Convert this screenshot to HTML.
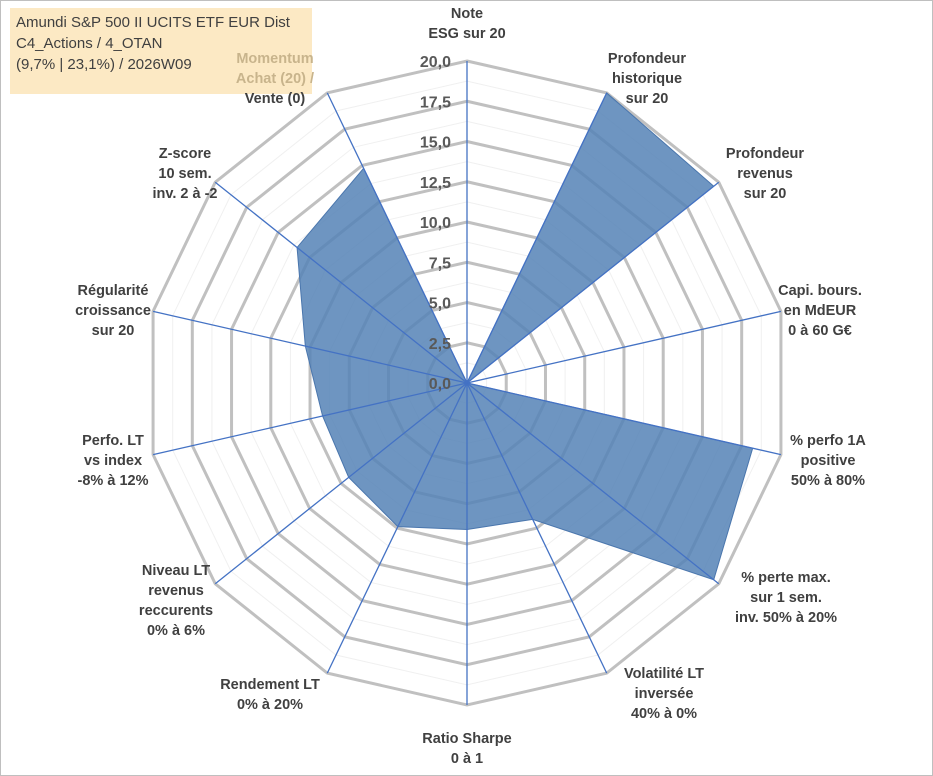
<!DOCTYPE html>
<html><head><meta charset="utf-8"><style>
body{margin:0;background:#fff;}
#wrap{position:relative;width:933px;height:776px;overflow:hidden;font-family:"Liberation Sans",sans-serif;}
#frame{position:absolute;left:0;top:0;width:931px;height:774px;border:1px solid #bfbfbf;}
#title{position:absolute;left:10px;top:8px;width:302px;height:86px;background:#fce9c4;color:#404040;font-size:15px;line-height:21px;padding:4px 6px;box-sizing:border-box;}
svg text{font-family:"Liberation Sans",sans-serif;}
</style></head><body>
<div id="wrap">
<div id="frame"></div>
<div id="title">Amundi S&amp;P 500 II UCITS ETF EUR Dist<br>C4_Actions / 4_OTAN<br>(9,7% | 23,1%) / 2026W09</div>
<svg id="svg" width="933" height="776" style="position:absolute;left:0;top:0"></svg>
</div>
<script>
const categories=[["Note","ESG sur 20"],["Profondeur","historique","sur 20"],["Profondeur","revenus","sur 20"],["Capi. bours.","en MdEUR","0 à 60 G€"],["% perfo 1A","positive","50% à 80%"],["% perte max.","sur 1 sem.","inv. 50% à 20%"],["Volatilité LT","inversée","40% à 0%"],["Ratio Sharpe","0 à 1"],["Rendement LT","0% à 20%"],["Niveau LT","revenus","reccurents","0% à 6%"],["Perfo. LT","vs index","-8% à 12%"],["Régularité","croissance","sur 20"],["Z-score","10 sem.","inv. 2 à -2"],["Momentum","Achat (20) /","Vente (0)"]];
const values=[0,20,19.6,0,18.2,19.6,9.4,9.1,9.9,9.4,9.2,10.3,13.5,14.8];
const ticks=[0,2.5,5,7.5,10,12.5,15,17.5,20];
const maxV=20;
const labelPos=[[467,5],[647,50],[765,145],[820,282],[828,432],[786,569],[664,665],[467,730],[270,676],[176,562],[113,432],[113,282],[185,145],[275,50]];
const NS="http://www.w3.org/2000/svg";
const svg=document.getElementById('svg');
const cx=467,cy=383,R=322,n=categories.length;
function ang(i){return i*2*Math.PI/n;}
function pt(i,v){const r=v/maxV*R;return [cx+r*Math.sin(ang(i)),cy-r*Math.cos(ang(i))];}
function mk(t,a){const e=document.createElementNS(NS,t);for(const k in a)e.setAttribute(k,a[k]);svg.appendChild(e);return e;}
for(let k=1;k<=16;k++){const v=k*1.25;const p=[];for(let i=0;i<n;i++)p.push(pt(i,v).join(','));
 const major=(k%2===0);
 const e=mk('polygon',{points:p.join(' '),fill:'none',stroke:major?'#c0c0c0':'#f0f0f0','stroke-width':major?3:1});
 
 }
{const p=values.map((v,i)=>pt(i,v).join(','));
 const e=mk('polygon',{points:p.join(' '),fill:'#5582b6','fill-opacity':0.85,stroke:'#4a76ad','stroke-width':1});
 
 }
for(let i=0;i<n;i++){const [x,y]=pt(i,maxV);
 const e=mk('line',{x1:cx,y1:cy,x2:x,y2:y,stroke:'#4472c4','stroke-width':1.3});
 
 }
ticks.forEach(t=>{const y=cy-t/maxV*R;
 const e=mk('text',{x:cx-16,y:y+6,'text-anchor':'end','font-size':16,'font-weight':'bold',fill:'#595959'});
 e.textContent=t.toFixed(1).replace('.',',');
 
 });
categories.forEach((lines,i)=>{const [x,y]=labelPos[i];
 const e=mk('text',{x:x,y:y+13,'text-anchor':'middle','font-size':14.5,'font-weight':'bold',fill:'#404040'});
 lines.forEach((l,j)=>{const ts=document.createElementNS(NS,'tspan');ts.setAttribute('x',x);ts.setAttribute('dy',j?20:0);ts.textContent=l;
  if(i===13&&j<2){ts.setAttribute('fill','#c8b48c');}
  e.appendChild(ts);});
 
 });
</script>
</body></html>
